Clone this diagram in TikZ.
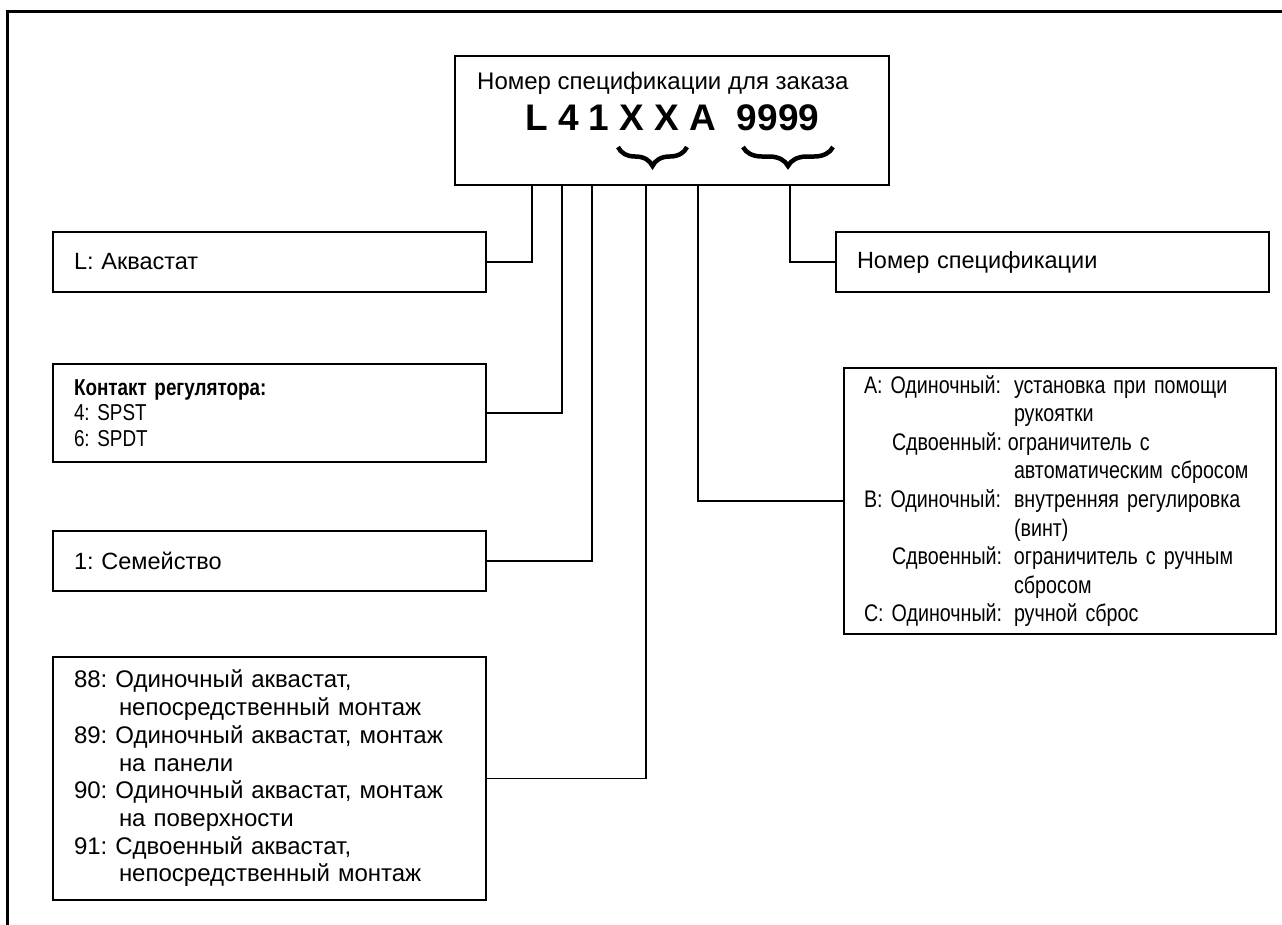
\documentclass[tikz,border=0pt]{standalone}
\usepackage{fontspec}
\setmainfont{Liberation Sans}
\newfontfamily\narrowfont[FakeStretch=0.82]{Liberation Sans}
\usetikzlibrary{decorations.pathreplacing}
\tikzset{
  box/.style={draw, line width=2pt, anchor=north west, inner xsep=21pt, inner ysep=0pt, align=left},
  wire/.style={line width=1.3pt},
  curly/.style={decorate, decoration={brace, mirror, amplitude=19pt}, line width=4.5pt}
}
\frenchspacing

\begin{document}
\begin{tikzpicture}[x=1pt, y=-1pt]
\useasboundingbox (0,0) rectangle (1282,924);
% outer frame, open to the right and below
\draw[line width=3pt] (7,930) -- (7,11) -- (1290,11);

%% ------------------------------------------------------------------ order number
\node[draw, line width=2pt, anchor=north west, minimum width=434pt, minimum height=129pt, inner sep=0pt] (order) at (454,55) {};
\node[anchor=base west, inner sep=0pt, font=\fontsize{24}{27}\selectfont] (title) at (477,89) {Номер спецификации для заказа};
\node[anchor=base west, inner sep=0pt, font=\fontsize{37}{40}\selectfont\bfseries] (code) at (525,130) {L 4 1 X X A~ 9999};
\draw[curly] (618,147) -- (687,147);
\draw[curly] (743,147) -- (833,147);
% where the leads leave the box
\coordinate (oL) at (532,184);
\coordinate (o4) at (562,184);
\coordinate (o1) at (592,184);
\coordinate (oX) at (646,184);
\coordinate (oA) at (698,184);
\coordinate (o9) at (790,184);

%% ------------------------------------------------------------------ left column
\node[box, text width=391pt, minimum height=60pt, font=\fontsize{23.5}{27}\selectfont] (aqua) at (52,231) {L: Аквастат};
\node[box, text width=391pt, minimum height=98pt, font=\narrowfont\fontsize{23}{25.5}\selectfont] (contact) at (52,363)
  {\textbf{Контакт регулятора:}\\4: SPST\\6: SPDT};
\node[box, text width=391pt, minimum height=60pt, font=\fontsize{23.5}{27}\selectfont] (family) at (52,530) {1: Семейство};
\node[box, text width=391pt, minimum height=243pt, font=\fontsize{24}{27.7}\selectfont] (mount) at (52,656)
  {88: Одиночный аквастат,\\
   \hspace*{45pt}непосредственный монтаж\\
   89: Одиночный аквастат, монтаж\\
   \hspace*{45pt}на панели\\
   90: Одиночный аквастат, монтаж\\
   \hspace*{45pt}на поверхности\\
   91: Сдвоенный аквастат,\\
   \hspace*{45pt}непосредственный монтаж};

%% ------------------------------------------------------------------ right column
\node[box, text width=391pt, minimum height=60pt, font=\fontsize{23.5}{27}\selectfont] (spec) at (835,231) {Номер спецификации};
\node[box, inner xsep=20pt, text width=392pt, minimum height=266pt, font=\narrowfont\fontsize{24}{28.6}\selectfont] (adjust) at (843,367)
  {\makebox[150pt][l]{A: Одиночный:}установка при помощи\\
   \hspace*{150pt}рукоятки\\
   \hspace*{28pt}\makebox[116pt][l]{Сдвоенный:}ограничитель с\\
   \hspace*{150pt}автоматическим сбросом\\
   \makebox[150pt][l]{B: Одиночный:}внутренняя регулировка\\
   \hspace*{150pt}(винт)\\
   \hspace*{28pt}\makebox[122pt][l]{Сдвоенный:}ограничитель с ручным\\
   \hspace*{150pt}сбросом\\
   \makebox[150pt][l]{C: Одиночный:}ручной сброс};

%% ------------------------------------------------------------------ leads
\draw[wire] (aqua.east) -| (oL);
\draw[wire] (contact.east) -| (o4);
\draw[wire] (family.east) -| (o1);
\draw[wire] (mount.east) -| (oX);
\draw[wire] (adjust.west) -| (oA);
\draw[wire] (spec.west) -| (o9);
\end{tikzpicture}
\end{document}
